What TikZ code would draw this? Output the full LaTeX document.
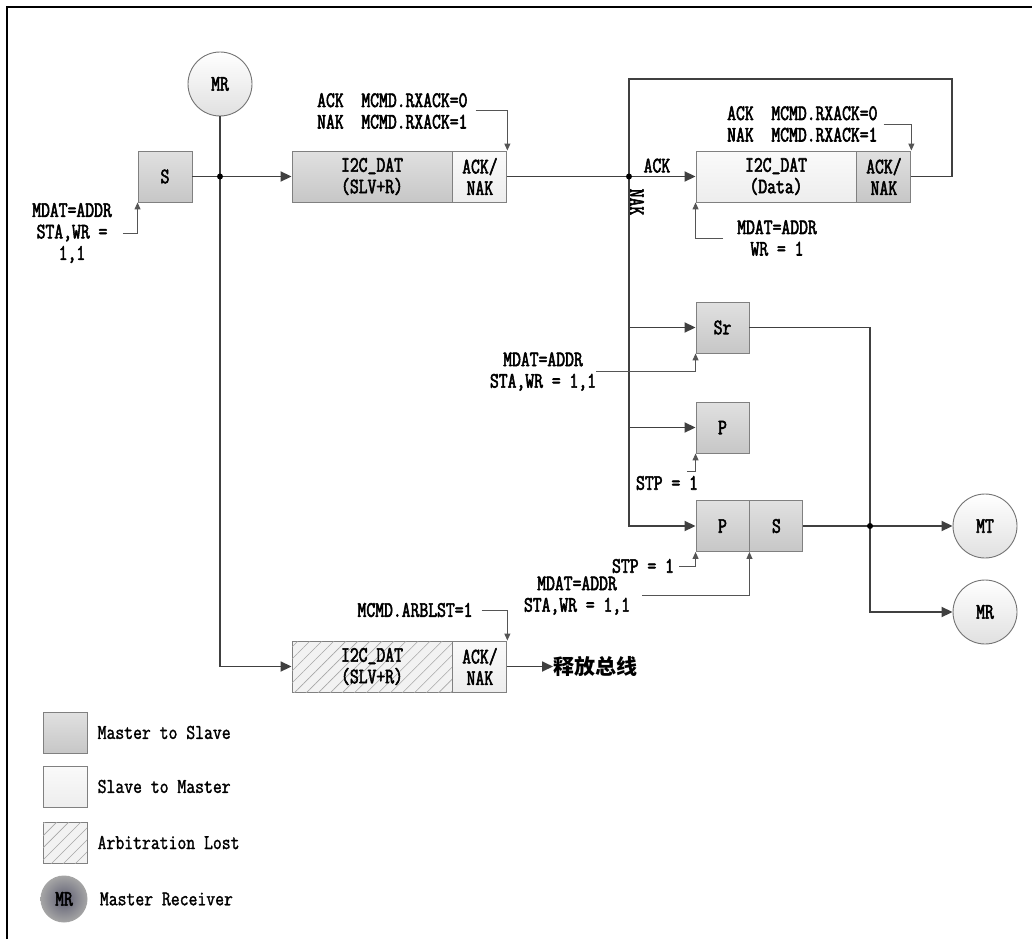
\documentclass[tikz,border=0pt]{standalone}
\usepackage{fontspec}
\setmainfont{Latin Modern Mono}[FakeStretch=0.78,FakeBold=2.5]
\newfontfamily\legendfont{Latin Modern Mono}[FakeStretch=0.82,FakeBold=1.5]
\newfontfamily\cjk{Noto Sans CJK SC}
\usetikzlibrary{arrows.meta,patterns.meta,positioning}

\definecolor{lineg}{HTML}{404040}
\definecolor{noteg}{HTML}{555555}
\definecolor{boxg}{HTML}{808080}
\definecolor{mrdark}{HTML}{5E5E72}
\newcommand\regus{\raisebox{2pt}{\_}}

\tikzset{
  flow/.style={lineg, line width=1.8pt, -{Triangle[length=11pt,width=10pt]}},
  flowline/.style={lineg, line width=1.8pt},
  note/.style={noteg, line width=1pt, -{Triangle[length=7pt,width=6pt]}},
  msbox/.style={draw=boxg, line width=0.9pt, top color=black!12, bottom color=black!22,
    minimum height=51pt, inner sep=0pt, align=center},
  smbox/.style={msbox, top color=black!2, bottom color=black!7},
  arbbox/.style={draw=boxg, line width=0.9pt, fill=black!5,
    postaction={pattern={Lines[angle=45,distance=8.5pt,line width=0.6pt]}, pattern color=black!35},
    minimum height=51pt, inner sep=0pt, align=center},
  master/.style={circle, draw=black!55, line width=0.9pt, top color=white, bottom color=black!12,
    minimum size=64pt, inner sep=0pt},
  lbl/.style={align=center, inner sep=0pt, text=black},
  dot/.style={circle, fill=black, inner sep=0pt, minimum size=6pt},
  legtext/.style={inner sep=0pt, font=\legendfont\fontsize{21}{21}\selectfont},
}

\begin{document}
\begin{tikzpicture}[x=1pt, y=-1pt, font=\fontsize{22}{21.5}\selectfont]
\useasboundingbox (0,0) rectangle (1032,939);
% frame
\draw[line width=2pt] (7,939) -- (7,7) -- (1032,7);

% address phase
\node[master] (mr0) at (220,84) {MR};
\node[msbox, minimum width=54pt] (s0) at (165,176.5) {S};
\node[msbox, minimum width=160pt] (dat1) at (372,176.5) {I2C\regus DAT\\(SLV+R)};
\node[smbox, minimum width=54pt, right=0pt of dat1] (ack1) {ACK/\\NAK};
\coordinate (j0) at (mr0 |- s0);
\node[lbl] (ns) at (72,233) {MDAT=ADDR\\STA,WR =\\1,1};
\node[lbl, align=left, anchor=west] (nack1) at (317,111) {ACK\ \ MCMD.RXACK=0\\NAK\ \ MCMD.RXACK=1};

\draw[flow] (s0) -- (dat1);
\draw[note] ([xshift=11pt]ns.east) -| (s0.south west);
\draw[note] ([xshift=8pt]nack1.east) -| (ack1.north east);

% data phase
\coordinate (j1) at (629,176.5);
\coordinate (lp) at (952,79);
\node[smbox, minimum width=160pt] (dat2) at (776,176.5) {I2C\regus DAT\\(Data)};
\node[msbox, minimum width=54pt, right=0pt of dat2] (ack2) {ACK/\\NAK};
\node[lbl, align=left, anchor=west] (nack2) at (727,124) {ACK\ \ MCMD.RXACK=0\\NAK\ \ MCMD.RXACK=1};
\node[lbl] (nwr) at (777,238) {MDAT=ADDR\\WR = 1};
\node[lbl, rotate=-90] (nakl) at (637,202) {NAK};

\draw[flowline] (ack1) -- (j1);
\draw[flow] (j1) -- node[lbl, above=3pt, pos=0.42] (ackl) {ACK} (dat2);
\draw[flowline] (ack2) -| (lp) -| (j1);
\draw[note] ([xshift=6pt]nack2.east) -| (ack2.north east);
\draw[note] ([xshift=-14pt]nwr.west) -| (dat2.south west);

% repeated start / stop
\node[msbox, minimum width=53pt] (sr) at (722.5,327.5) {Sr};
\node[msbox, minimum width=53pt] (pst) at (722.5,427.5) {P};
\node[msbox, minimum width=53pt] (p2) at (722.5,526) {P};
\node[msbox, minimum width=53pt, right=0pt of p2] (s2) {S};
\node[master] (mt) at (985,526) {MT};
\node[master] (mr1) at (985,612) {MR};
\coordinate (j2) at (870,526);
\coordinate (cstp) at (687,471);
\node[lbl] (nsr) at (543,371.5) {MDAT=ADDR\\STA,WR = 1,1};
\node[lbl] (nstp1) at (667,483) {STP = 1};
\node[lbl] (nstp2) at (643,566) {STP = 1};
\node[lbl] (nps) at (577,595.5) {MDAT=ADDR\\STA,WR = 1,1};

\draw[flow] (j1 |- sr) -- (sr);
\draw[flow] (j1 |- pst) -- (pst);
\draw[flow] (j1) |- (p2);
\draw[flowline] (sr) -| (j2);
\draw[flow] (s2) -- (mt);
\draw[flow] (j2) |- (mr1);
\draw[note] (nsr.east) -| (sr.south west);
\draw[note] (cstp) -| (pst.south west);
\draw[note] ([xshift=5pt]nstp2.east) -| (p2.south west);
\draw[note] ([xshift=12pt]nps.east) -| (p2.south east);

% arbitration lost
\node[arbbox, minimum width=160pt] (dat3) at (372,666.5) {I2C\regus DAT\\(SLV+R)};
\node[smbox, minimum width=54pt, right=0pt of dat3] (ack3) {ACK/\\NAK};
\node[anchor=west, inner sep=0pt, font=\cjk\bfseries\fontsize{21}{21}\selectfont] (rel) at (553,666.5) {释放总线};
\node[lbl] (narb) at (415,610) {MCMD.ARBLST=1};

\draw[flow] (mr0) |- (dat3);
\draw[flow] (ack3) -- (rel);
\draw[note] ([xshift=9pt]narb.east) -| (ack3.north east);

\node[dot] (d0) at (j0) {};
\node[dot] (d1) at (j1) {};
\node[dot] (d2) at (j2) {};

% legend
\node[msbox, minimum width=44pt, minimum height=41pt] (lg1) at (65,732.5) {};
\node[smbox, minimum width=44pt, minimum height=41pt] (lg2) at (65,786.5) {};
\node[arbbox, minimum width=44pt, minimum height=41pt] (lg3) at (65,842.5) {};
\node[circle, minimum size=47pt, inner sep=0pt, inner color=mrdark, outer color=black!35] (lg4) at (64,899) {MR};
\node[legtext, right=10pt of lg1] (lt1) {Master to Slave};
\node[legtext, right=10pt of lg2] (lt2) {Slave to Master};
\node[legtext, right=10pt of lg3] (lt3) {Arbitration Lost};
\node[legtext, right=12pt of lg4] (lt4) {Master Receiver};
\end{tikzpicture}
\end{document}
